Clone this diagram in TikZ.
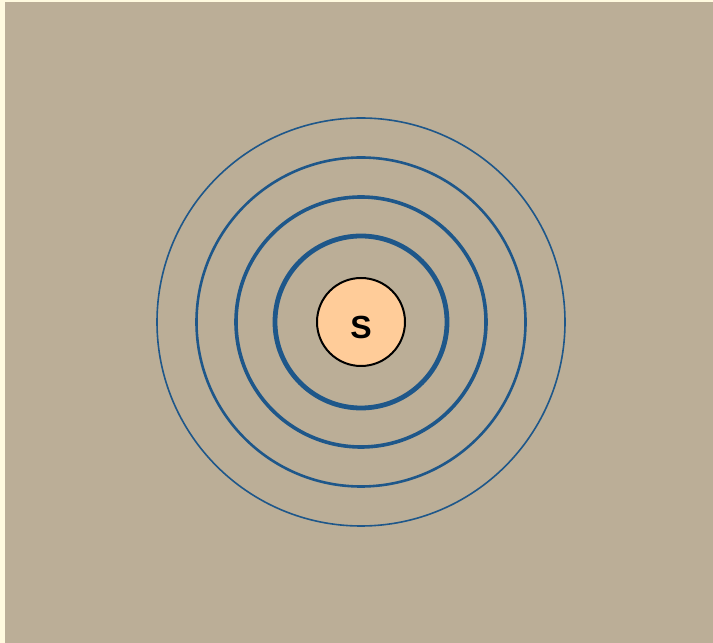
\documentclass[tikz,border=0pt]{standalone}
\usepackage{fontspec}
\setmainfont{Liberation Sans}
\definecolor{bgtan}{HTML}{BBAE97}
\definecolor{strip}{HTML}{FFFADF}
\definecolor{ringblue}{HTML}{1E578A}
\definecolor{srcfill}{HTML}{FFCC99}
\newcommand{\srcfont}{\fontsize{32}{36}\selectfont\bfseries}
\begin{document}
\begin{tikzpicture}[x=1pt,y=1pt,
  ring/.style={draw=ringblue},
  source/.style={circle,draw=black,line width=2pt,fill=srcfill,minimum size=88pt,inner sep=0pt},
  srclabel/.style={inner sep=0pt}]
\useasboundingbox (0,0) rectangle (713,643);
\fill[strip] (0,0) rectangle (713,643);
\fill[bgtan] (5,0) rectangle (713,641);
\coordinate (c) at (361,321);
\draw[ring,line width=1.6pt] (c) circle (204);
\draw[ring,line width=2.6pt] (c) circle (164.5);
\draw[ring,line width=3.6pt] (c) circle (125);
\draw[ring,line width=4.8pt] (c) circle (86);
\node[source] (s) at (c) {};
\node[srclabel] (sl) at ([yshift=-5pt]s.center) {\srcfont S};
\end{tikzpicture}
\end{document}
